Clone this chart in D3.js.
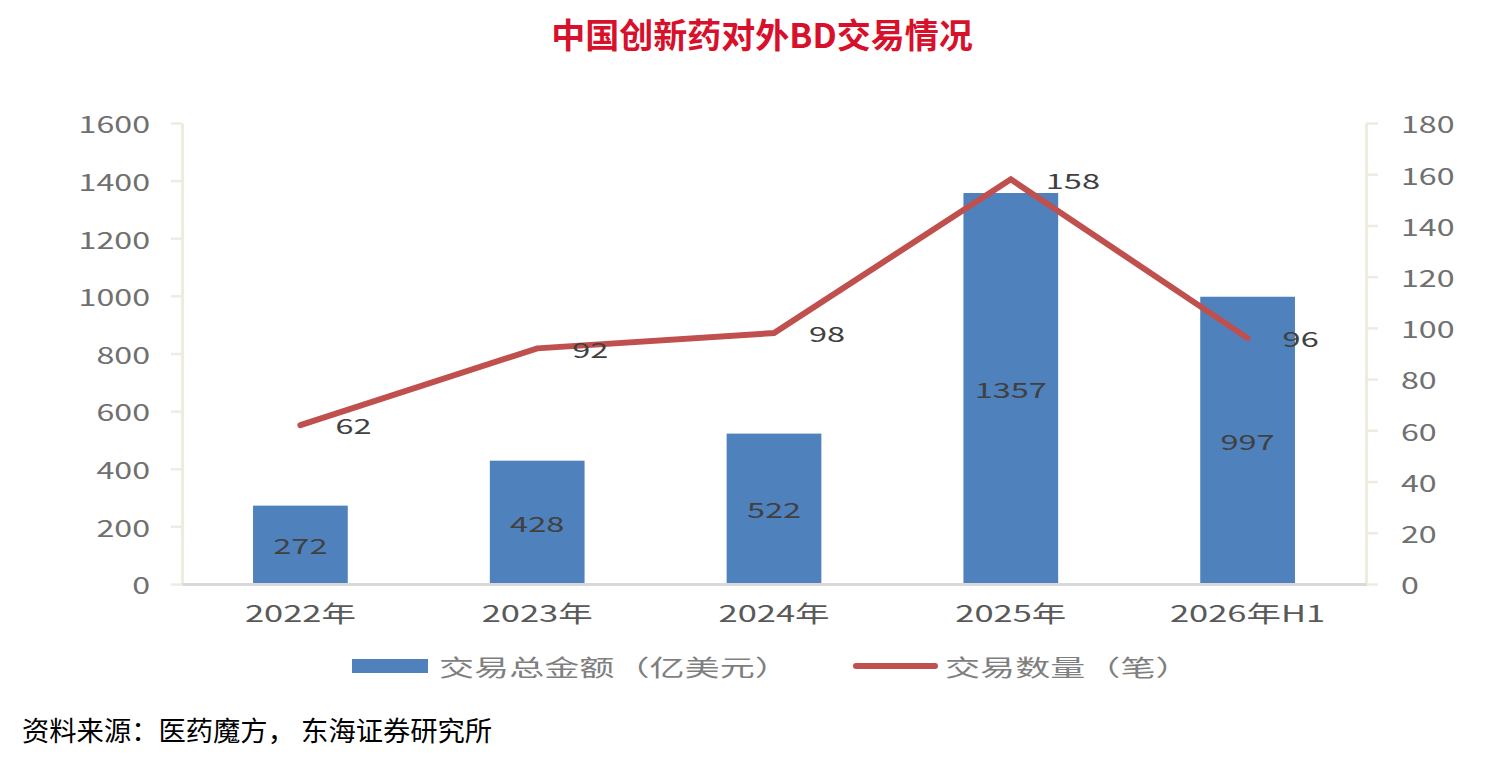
<!DOCTYPE html>
<html>
<head>
<meta charset="utf-8">
<script src="https://cdn.jsdelivr.net/npm/d3@7"></script>
<style>
    body { margin: 0; background: #fff; }
    svg text { font-family: "Noto Sans CJK SC", "Noto Sans", sans-serif; }
</style>
</head>
<body>
<svg id="chart" width="1510" height="776"></svg>
<script>
// chart data
const categories = ['2022年', '2023年', '2024年', '2025年', '2026年H1'];
const dealAmounts = [272, 428, 522, 1357, 997];   // 交易总金额（亿美元）
const dealCounts = [62, 92, 98, 158, 96];         // 交易数量（笔）
const leftTicks = [0, 200, 400, 600, 800, 1000, 1200, 1400, 1600];
const rightTicks = [0, 20, 40, 60, 80, 100, 120, 140, 160, 180];
const legendLabels = ['交易总金额（亿美元）', '交易数量（笔）'];
const titleText = '中国创新药对外BD交易情况';
const sourceText = '资料来源：医药魔方， 东海证券研究所';

const barColor = '#4f81bd';
const lineColor = '#c0504d';
const SX = 1.45; // the original picture is stretched sideways

const svg = d3.select('#chart');
const margin = { top: 123, right: 144, bottom: 192, left: 182 };
const width = 1510 - margin.left - margin.right;
const height = 776 - margin.top - margin.bottom;

// stretched text helper
function stretchedText(parent, x, y, txt, opts) {
    return parent.append('text')
        .attr('transform', `translate(${x},${y}) scale(${opts.sx || SX},1)`)
        .attr('text-anchor', opts.anchor || 'middle')
        .attr('dominant-baseline', 'central')
        .style('font-size', opts.size + 'px')
        .style('font-weight', opts.weight || 'normal')
        .attr('fill', opts.color)
        .text(txt);
}

// title
svg.append('text')
    .attr('x', 762)
    .attr('y', 33)
    .attr('text-anchor', 'middle')
    .attr('dominant-baseline', 'central')
    .style('font-size', '34px')
    .style('font-weight', 'bold')
    .attr('fill', '#d7102b')
    .text(titleText);

const g = svg.append('g')
    .attr('transform', `translate(${margin.left}, ${margin.top})`);

const x = d3.scaleBand()
    .domain(categories)
    .range([0, width])
    .paddingInner(0.6)
    .paddingOuter(0.3);

const yLeft = d3.scaleLinear().domain([0, 1600]).range([height, 0]);
const yRight = d3.scaleLinear().domain([0, 180]).range([height, 0]);

// left axis
const leftAxis = g.append('g')
    .call(d3.axisLeft(yLeft).tickValues(leftTicks).tickFormat(d3.format('d'))
        .tickSize(11).tickPadding(21).tickSizeOuter(0));
leftAxis.selectAll('line').attr('stroke', '#eeebdf').attr('stroke-width', 2.5);
leftAxis.select('.domain').attr('stroke', '#eeebdf').attr('stroke-width', 3);
leftAxis.selectAll('text')
    .attr('x', -32 / 1.4)
    .attr('transform', 'scale(1.4,1)')
    .attr('dy', null)
    .attr('dominant-baseline', 'central')
    .style('font-size', '23px')
    .attr('fill', '#707070');

// right axis
const rightAxis = g.append('g')
    .attr('transform', `translate(${width}, 0)`)
    .call(d3.axisRight(yRight).tickValues(rightTicks).tickFormat(d3.format('d'))
        .tickSize(12).tickPadding(23).tickSizeOuter(0));
rightAxis.selectAll('line').attr('stroke', '#eeebdf').attr('stroke-width', 2.5);
rightAxis.select('.domain').attr('stroke', '#eeebdf').attr('stroke-width', 3);
rightAxis.selectAll('text')
    .attr('x', 35 / 1.4)
    .attr('transform', 'scale(1.4,1)')
    .attr('dy', null)
    .attr('dominant-baseline', 'central')
    .style('font-size', '23px')
    .attr('fill', '#707070');

// bars
g.selectAll('.bar')
    .data(dealAmounts)
    .enter()
    .append('rect')
    .attr('class', 'bar')
    .attr('x', (d, i) => x(categories[i]))
    .attr('y', (d) => yLeft(d))
    .attr('width', x.bandwidth())
    .attr('height', (d) => height - yLeft(d))
    .attr('fill', barColor);

// bottom axis
const bottomAxis = g.append('g')
    .attr('transform', `translate(0, ${height})`)
    .call(d3.axisBottom(x).tickSize(0).tickPadding(0));
bottomAxis.select('.domain').attr('stroke', '#d9d9d9').attr('stroke-width', 3);
bottomAxis.selectAll('text').remove();
categories.forEach((c) => {
    stretchedText(bottomAxis, x(c) + x.bandwidth() / 2, 28, c, { size: 23, color: '#595959', sx: 1.5 });
});

// bar labels
dealAmounts.forEach((d, i) => {
    const cx = x(categories[i]) + x.bandwidth() / 2;
    stretchedText(g, cx, (yLeft(d) + height) / 2, d, { size: 21, color: '#404040', sx: 1.55 });
});

// line
const line = d3.line()
    .x((d, i) => x(categories[i]) + x.bandwidth() / 2)
    .y((d) => yRight(d));

g.append('path')
    .datum(dealCounts)
    .attr('d', line)
    .attr('fill', 'none')
    .attr('stroke', lineColor)
    .attr('stroke-width', 6)
    .attr('stroke-linecap', 'round')
    .attr('stroke-linejoin', 'miter');

// line labels (right of each point)
dealCounts.forEach((d, i) => {
    const px = x(categories[i]) + x.bandwidth() / 2;
    stretchedText(g, px + 35, yRight(d), d, { size: 21, color: '#404040', sx: 1.55, anchor: 'start' });
});

// legend
const legend = svg.append('g');
legend.append('rect')
    .attr('x', 352).attr('y', 659)
    .attr('width', 76).attr('height', 14)
    .attr('fill', barColor);
stretchedText(legend, 439, 666, legendLabels[0], { size: 22.5, color: '#7f7f7f', sx: 1.56, anchor: 'start' });

legend.append('line')
    .attr('x1', 856).attr('x2', 935)
    .attr('y1', 666).attr('y2', 666)
    .attr('stroke', lineColor)
    .attr('stroke-width', 6)
    .attr('stroke-linecap', 'round');
stretchedText(legend, 945, 666, legendLabels[1], { size: 22.5, color: '#7f7f7f', sx: 1.56, anchor: 'start' });

// source note
svg.append('text')
    .attr('x', 22)
    .attr('y', 729)
    .attr('dominant-baseline', 'central')
    .style('font-size', '27.3px')
    .attr('fill', '#000')
    .text(sourceText);
</script>
</body>
</html>
